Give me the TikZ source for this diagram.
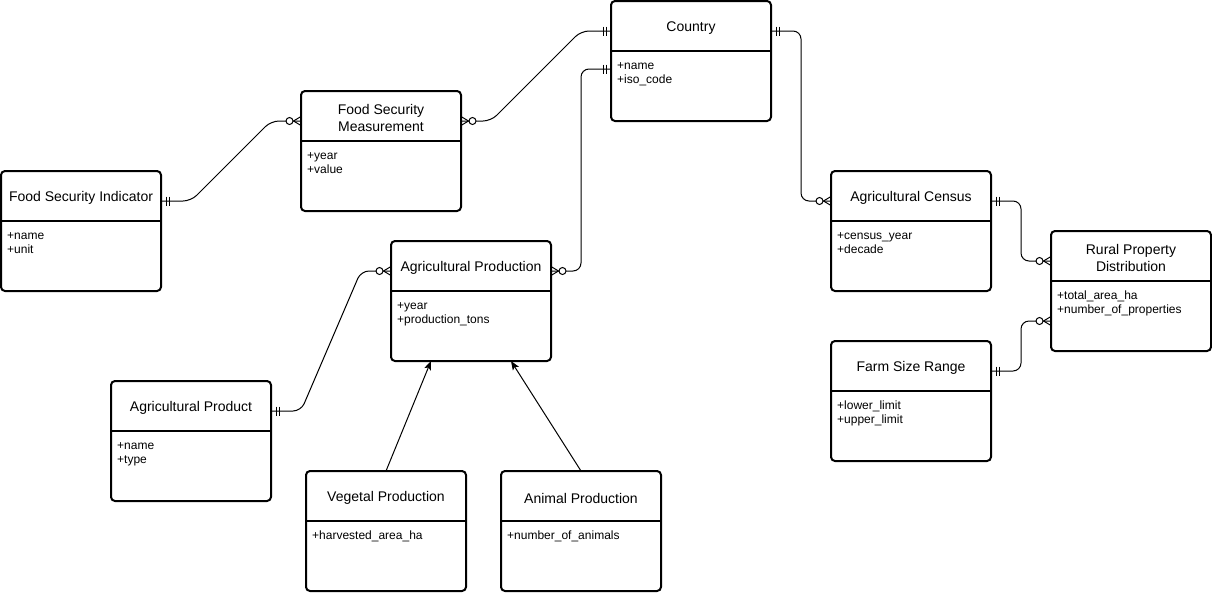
\documentclass[tikz,border=0pt]{standalone}
\usepackage{fontspec}
\setmainfont{Liberation Sans}
\usetikzlibrary{calc,arrows.meta}

\newcommand{\entity}[5]{%
  \node[entbox] (#1) at (#2,#3) {};
  \draw[entline] ($(#1.north west)+(0,50)$) -- ($(#1.north east)+(0,50)$);
  \node[enttitle] (#1-t) at ($(#1.north)+(0,27)$) {#4};
  \node[entattr] (#1-a) at ($(#1.north west)+(6,58.2)$) {\strut#5};
}

\begin{document}
\begin{tikzpicture}[x=1pt,y=-1pt,
  entline/.style={line width=2pt},
  entbox/.style={draw, entline, rounded corners=4pt, minimum width=160pt,
    minimum height=120pt, anchor=north west, inner sep=0pt, outer sep=0pt},
  enttitle/.style={align=center, inner sep=0pt, font=\fontsize{14}{17}\selectfont},
  entattr/.style={align=left, anchor=north west, inner sep=0pt, font=\fontsize{12}{14}\selectfont},
  rel/.style={line width=1pt, rounded corners=8pt},
  isa/.style={line width=1pt, -{Stealth[length=9pt,width=7pt,inset=2pt]}},
  one/.pic={\draw[line width=1pt] (5,-4.5) -- (5,4.5) (8,-4.5) -- (8,4.5);},
  many/.pic={\draw[line width=1pt] (0,-4.5) -- (7.5,0) -- (0,4.5);
    \draw[line width=1pt, fill=white] (11.5,0) circle[radius=3.5];}]
\useasboundingbox (0,0) rectangle (1212,592);

\entity{country}{611}{1}{Country}{+name\\+iso\_code}
\entity{fsm}{301}{91}{Food Security\\Measurement}{+year\\+value}
\entity{fsi}{1}{171}{Food Security Indicator}{+name\\+unit}
\entity{agprod}{391}{241}{Agricultural Production}{+year\\+production\_tons}
\entity{census}{831}{171}{Agricultural Census}{+census\_year\\+decade}
\entity{rpd}{1051}{231}{Rural Property\\Distribution}{+total\_area\_ha\\+number\_of\_properties}
\entity{farm}{831}{341}{Farm Size Range}{+lower\_limit\\+upper\_limit}
\entity{product}{111}{381}{Agricultural Product}{+name\\+type}
\entity{vegetal}{306}{471}{Vegetal Production}{+harvested\_area\_ha}
\entity{animal}{501}{471}{Animal Production}{+number\_of\_animals}

\coordinate (country-w1) at ($(country.north west)+(0,30)$);
\coordinate (country-w2) at ($(country.north west)+(0,68)$);
\coordinate (country-e1) at ($(country.north east)+(0,30)$);
\coordinate (fsm-w1) at ($(fsm.north west)+(0,30)$);
\coordinate (fsm-e1) at ($(fsm.north east)+(0,30)$);
\coordinate (fsi-e1) at ($(fsi.north east)+(0,30)$);
\coordinate (agprod-w1) at ($(agprod.north west)+(0,30)$);
\coordinate (agprod-e1) at ($(agprod.north east)+(0,30)$);
\coordinate (census-w1) at ($(census.north west)+(0,30)$);
\coordinate (census-e1) at ($(census.north east)+(0,30)$);
\coordinate (rpd-w1) at ($(rpd.north west)+(0,30)$);
\coordinate (rpd-w2) at ($(rpd.north west)+(0,90)$);
\coordinate (farm-e1) at ($(farm.north east)+(0,30)$);
\coordinate (product-e1) at ($(product.north east)+(0,30)$);

\draw[rel] (country-w1) -- ++(-30,0) -- ($(fsm-e1)+(30,0)$) -- (fsm-e1);
\draw[rel] (fsi-e1) -- ++(30,0) -- ($(fsm-w1)+(-30,0)$) -- (fsm-w1);
\draw[rel] (country-w2) -- ++(-30,0) |- (agprod-e1);
\draw[rel] (country-e1) -- ++(30,0) |- (census-w1);
\draw[rel] (census-e1) -- ++(30,0) |- (rpd-w1);
\draw[rel] (farm-e1) -- ++(30,0) |- (rpd-w2);
\draw[rel] (product-e1) -- ++(30,0) -- ($(agprod-w1)+(-30,0)$) -- (agprod-w1);

\pic[xscale=-1] at (country-w1) {one};
\pic[xscale=-1] at (country-w2) {one};
\pic at (country-e1) {one};
\pic at (fsi-e1) {one};
\pic at (census-e1) {one};
\pic at (farm-e1) {one};
\pic at (product-e1) {one};
\pic at (fsm-e1) {many};
\pic[xscale=-1] at (fsm-w1) {many};
\pic at (agprod-e1) {many};
\pic[xscale=-1] at (agprod-w1) {many};
\pic[xscale=-1] at (census-w1) {many};
\pic[xscale=-1] at (rpd-w1) {many};
\pic[xscale=-1] at (rpd-w2) {many};

\draw[isa] (vegetal.north) -- ($(agprod.south)+(-40,0)$);
\draw[isa] (animal.north) -- ($(agprod.south)+(40,0)$);
\end{tikzpicture}
\end{document}
